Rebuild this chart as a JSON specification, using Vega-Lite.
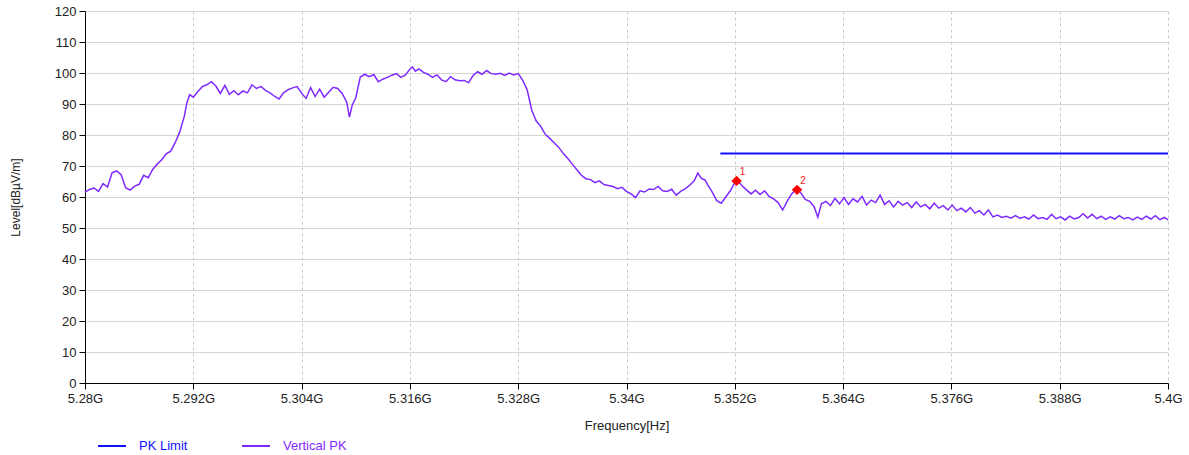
{
  "$schema": "https://vega.github.io/schema/vega-lite/v6.json",
  "width": 1083,
  "height": 372,
  "autosize": {"type": "none"},
  "padding": {"left": 85, "top": 11, "right": 21, "bottom": 72},
  "background": "white",
  "config": {
    "font": "Liberation Sans",
    "view": {"stroke": null},
    "axis": {"labelFont": "Liberation Sans", "titleFont": "Liberation Sans", "labelColor": "#222", "titleColor": "#222", "titleFontWeight": "normal"}
  },
  "datasets": {
    "trace": [
      {"f":5280.0,"v":61.6},{"f":5280.5,"v":62.4},{"f":5281.0,"v":62.9},{"f":5281.5,"v":61.8},{"f":5282.0,"v":64.3},{"f":5282.5,"v":63.2},{"f":5283.0,"v":67.8},{"f":5283.5,"v":68.4},{"f":5284.0,"v":67.2},{"f":5284.5,"v":63.0},{"f":5285.0,"v":62.2},{"f":5285.5,"v":63.5},{"f":5286.0,"v":64.1},{"f":5286.5,"v":67.0},{"f":5287.0,"v":66.2},{"f":5287.5,"v":68.9},{"f":5288.0,"v":70.6},{"f":5288.5,"v":72.0},{"f":5289.0,"v":73.9},{"f":5289.5,"v":74.8},{"f":5290.0,"v":77.6},{"f":5290.5,"v":81.0},{"f":5291.0,"v":86.0},{"f":5291.3,"v":90.5},{"f":5291.6,"v":93.0},{"f":5292.0,"v":92.2},{"f":5292.5,"v":94.0},{"f":5293.0,"v":95.6},{"f":5293.5,"v":96.2},{"f":5294.0,"v":97.2},{"f":5294.5,"v":95.8},{"f":5295.0,"v":93.4},{"f":5295.5,"v":96.0},{"f":5296.0,"v":93.1},{"f":5296.5,"v":94.3},{"f":5297.0,"v":93.0},{"f":5297.5,"v":94.2},{"f":5298.0,"v":93.6},{"f":5298.5,"v":96.2},{"f":5299.0,"v":95.0},{"f":5299.5,"v":95.6},{"f":5300.0,"v":94.4},{"f":5300.5,"v":93.6},{"f":5301.0,"v":92.5},{"f":5301.5,"v":91.6},{"f":5302.0,"v":93.6},{"f":5302.5,"v":94.6},{"f":5303.0,"v":95.2},{"f":5303.5,"v":95.6},{"f":5304.0,"v":93.5},{"f":5304.5,"v":91.8},{"f":5305.0,"v":95.3},{"f":5305.5,"v":92.4},{"f":5306.0,"v":94.8},{"f":5306.5,"v":92.2},{"f":5307.0,"v":93.8},{"f":5307.5,"v":95.4},{"f":5308.0,"v":95.0},{"f":5308.5,"v":93.4},{"f":5309.0,"v":90.6},{"f":5309.3,"v":85.8},{"f":5309.6,"v":89.5},{"f":5310.0,"v":92.0},{"f":5310.5,"v":98.7},{"f":5311.0,"v":99.6},{"f":5311.5,"v":98.8},{"f":5312.0,"v":99.5},{"f":5312.5,"v":97.2},{"f":5313.0,"v":98.0},{"f":5313.5,"v":98.6},{"f":5314.0,"v":99.3},{"f":5314.5,"v":99.8},{"f":5315.0,"v":98.6},{"f":5315.5,"v":99.4},{"f":5316.0,"v":101.2},{"f":5316.3,"v":102.0},{"f":5316.6,"v":100.6},{"f":5317.0,"v":101.3},{"f":5317.5,"v":100.2},{"f":5318.0,"v":99.6},{"f":5318.5,"v":98.6},{"f":5319.0,"v":99.4},{"f":5319.5,"v":97.8},{"f":5320.0,"v":97.2},{"f":5320.5,"v":98.8},{"f":5321.0,"v":97.8},{"f":5321.5,"v":97.5},{"f":5322.0,"v":97.6},{"f":5322.5,"v":96.9},{"f":5323.0,"v":99.2},{"f":5323.5,"v":100.4},{"f":5324.0,"v":99.6},{"f":5324.5,"v":100.8},{"f":5325.0,"v":99.8},{"f":5325.5,"v":99.6},{"f":5326.0,"v":99.9},{"f":5326.5,"v":99.2},{"f":5327.0,"v":100.0},{"f":5327.5,"v":99.4},{"f":5328.0,"v":99.8},{"f":5328.5,"v":97.6},{"f":5329.0,"v":94.5},{"f":5329.5,"v":88.0},{"f":5330.0,"v":84.5},{"f":5330.5,"v":82.8},{"f":5331.0,"v":80.2},{"f":5331.5,"v":78.9},{"f":5332.0,"v":77.4},{"f":5332.5,"v":76.0},{"f":5333.0,"v":74.0},{"f":5333.5,"v":72.4},{"f":5334.0,"v":70.6},{"f":5334.5,"v":68.8},{"f":5335.0,"v":67.0},{"f":5335.5,"v":65.9},{"f":5336.0,"v":65.6},{"f":5336.5,"v":64.6},{"f":5337.0,"v":65.2},{"f":5337.5,"v":64.0},{"f":5338.0,"v":63.7},{"f":5338.5,"v":63.4},{"f":5339.0,"v":62.7},{"f":5339.5,"v":63.1},{"f":5340.0,"v":61.8},{"f":5340.5,"v":61.0},{"f":5341.0,"v":59.8},{"f":5341.5,"v":62.0},{"f":5342.0,"v":61.6},{"f":5342.5,"v":62.6},{"f":5343.0,"v":62.4},{"f":5343.5,"v":63.4},{"f":5344.0,"v":62.0},{"f":5344.5,"v":61.8},{"f":5345.0,"v":62.5},{"f":5345.5,"v":60.6},{"f":5346.0,"v":61.8},{"f":5346.5,"v":62.6},{"f":5347.0,"v":63.8},{"f":5347.5,"v":65.2},{"f":5347.9,"v":67.7},{"f":5348.3,"v":66.0},{"f":5348.7,"v":65.5},{"f":5349.0,"v":63.9},{"f":5349.5,"v":61.6},{"f":5350.0,"v":58.8},{"f":5350.5,"v":58.0},{"f":5351.0,"v":60.0},{"f":5351.5,"v":62.0},{"f":5352.0,"v":64.6},{"f":5352.3,"v":65.4},{"f":5352.8,"v":63.6},{"f":5353.3,"v":62.3},{"f":5353.8,"v":61.0},{"f":5354.3,"v":62.2},{"f":5354.8,"v":60.8},{"f":5355.3,"v":62.0},{"f":5355.8,"v":60.2},{"f":5356.3,"v":59.4},{"f":5356.8,"v":58.2},{"f":5357.3,"v":55.8},{"f":5357.8,"v":58.6},{"f":5358.3,"v":61.0},{"f":5358.8,"v":62.6},{"f":5359.3,"v":61.4},{"f":5359.8,"v":59.2},{"f":5360.3,"v":58.6},{"f":5360.8,"v":56.8},{"f":5361.2,"v":53.5},{"f":5361.6,"v":57.8},{"f":5362.1,"v":58.6},{"f":5362.6,"v":57.2},{"f":5363.1,"v":59.6},{"f":5363.6,"v":57.8},{"f":5364.1,"v":59.8},{"f":5364.6,"v":57.6},{"f":5365.1,"v":59.4},{"f":5365.6,"v":58.4},{"f":5366.1,"v":60.2},{"f":5366.6,"v":57.4},{"f":5367.1,"v":59.0},{"f":5367.6,"v":58.2},{"f":5368.1,"v":60.6},{"f":5368.6,"v":57.6},{"f":5369.1,"v":58.8},{"f":5369.6,"v":56.8},{"f":5370.1,"v":58.6},{"f":5370.6,"v":57.4},{"f":5371.1,"v":58.2},{"f":5371.6,"v":56.6},{"f":5372.1,"v":58.4},{"f":5372.6,"v":56.8},{"f":5373.1,"v":57.6},{"f":5373.6,"v":56.2},{"f":5374.1,"v":58.0},{"f":5374.6,"v":56.4},{"f":5375.1,"v":57.2},{"f":5375.6,"v":55.8},{"f":5376.1,"v":57.4},{"f":5376.6,"v":55.6},{"f":5377.1,"v":56.4},{"f":5377.6,"v":55.2},{"f":5378.1,"v":56.6},{"f":5378.6,"v":54.8},{"f":5379.1,"v":55.6},{"f":5379.6,"v":54.2},{"f":5380.1,"v":55.8},{"f":5380.6,"v":53.6},{"f":5381.1,"v":54.2},{"f":5381.6,"v":53.4},{"f":5382.1,"v":53.8},{"f":5382.6,"v":53.2},{"f":5383.1,"v":54.0},{"f":5383.6,"v":53.1},{"f":5384.1,"v":53.6},{"f":5384.6,"v":52.9},{"f":5385.1,"v":54.2},{"f":5385.6,"v":53.0},{"f":5386.1,"v":53.4},{"f":5386.6,"v":52.8},{"f":5387.1,"v":54.4},{"f":5387.6,"v":53.0},{"f":5388.1,"v":53.6},{"f":5388.6,"v":52.6},{"f":5389.1,"v":53.8},{"f":5389.6,"v":52.9},{"f":5390.1,"v":53.4},{"f":5390.6,"v":54.6},{"f":5391.1,"v":53.2},{"f":5391.6,"v":54.4},{"f":5392.1,"v":53.0},{"f":5392.6,"v":53.8},{"f":5393.1,"v":52.8},{"f":5393.6,"v":53.6},{"f":5394.1,"v":52.9},{"f":5394.6,"v":54.0},{"f":5395.1,"v":53.0},{"f":5395.6,"v":53.4},{"f":5396.1,"v":52.6},{"f":5396.6,"v":53.5},{"f":5397.1,"v":52.8},{"f":5397.6,"v":53.8},{"f":5398.1,"v":52.9},{"f":5398.6,"v":54.0},{"f":5399.1,"v":52.7},{"f":5399.6,"v":53.4},{"f":5400.0,"v":52.6}
    ],
    "limit": [
      {"f": 5350.4, "v": 74, "series": "PK Limit"},
      {"f": 5400.0, "v": 74, "series": "PK Limit"}
    ],
    "markers": [
      {"f": 5352.2, "v": 65.2, "id": "1"},
      {"f": 5358.9, "v": 62.3, "id": "2"}
    ]
  },
  "encoding": {
    "x": {
      "field": "f", "type": "quantitative",
      "scale": {"domain": [5280, 5400], "nice": false, "zero": false},
      "axis": {
        "title": "Frequency[Hz]", "titleFontSize": 13, "titlePadding": 14,
        "values": [5280, 5292, 5304, 5316, 5328, 5340, 5352, 5364, 5376, 5388, 5400],
        "labelExpr": "format(datum.value / 1000, '.3~f') + 'G'",
        "labelFontSize": 13, "labelPadding": 3, "labelFlush": false,
        "domainColor": "#000", "tickColor": "#000", "tickSize": 6,
        "gridColor": "#c8c8c8", "gridDash": [3, 3], "gridWidth": 1
      }
    },
    "y": {
      "field": "v", "type": "quantitative",
      "scale": {"domain": [0, 120], "nice": false},
      "axis": {
        "title": "Level[dBµV/m]", "titleFontSize": 12, "titlePadding": 32,
        "values": [0, 10, 20, 30, 40, 50, 60, 70, 80, 90, 100, 110, 120],
        "labelFontSize": 13, "labelPadding": 3,
        "domainColor": "#000", "tickColor": "#000", "tickSize": 6,
        "gridColor": "#d4d4d4", "gridWidth": 1
      }
    }
  },
  "layer": [
    {
      "data": {"name": "trace"},
      "transform": [{"calculate": "'Vertical PK'", "as": "series"}],
      "mark": {"type": "line", "strokeWidth": 1.5, "interpolate": "linear"},
      "encoding": {
        "color": {
          "field": "series", "type": "nominal",
          "scale": {"domain": ["PK Limit", "Vertical PK"], "range": ["#1010ff", "#7f2aff"]},
          "legend": {
            "title": null, "orient": "none", "direction": "horizontal",
            "legendX": 12, "legendY": 420,
            "symbolType": "stroke", "symbolSize": 784, "symbolStrokeWidth": 2,
            "labelFontSize": 13, "labelOffset": 12, "columnPadding": 50,
            "labelFont": "Liberation Sans",
            "encode": {"labels": {"update": {"fill": {"scale": "color", "field": "value"}}}}
          }
        }
      }
    },
    {
      "data": {"name": "limit"},
      "mark": {"type": "line", "strokeWidth": 2},
      "encoding": {"color": {"field": "series", "type": "nominal"}}
    },
    {
      "data": {"name": "markers"},
      "mark": {"type": "point", "shape": "diamond", "filled": true, "color": "#ff0000", "size": 110, "opacity": 1},
      "encoding": {}
    },
    {
      "data": {"name": "markers"},
      "mark": {"type": "text", "color": "#ff2020", "fontSize": 10, "dx": 6, "dy": -9, "font": "Liberation Sans"},
      "encoding": {"text": {"field": "id"}}
    }
  ]
}
